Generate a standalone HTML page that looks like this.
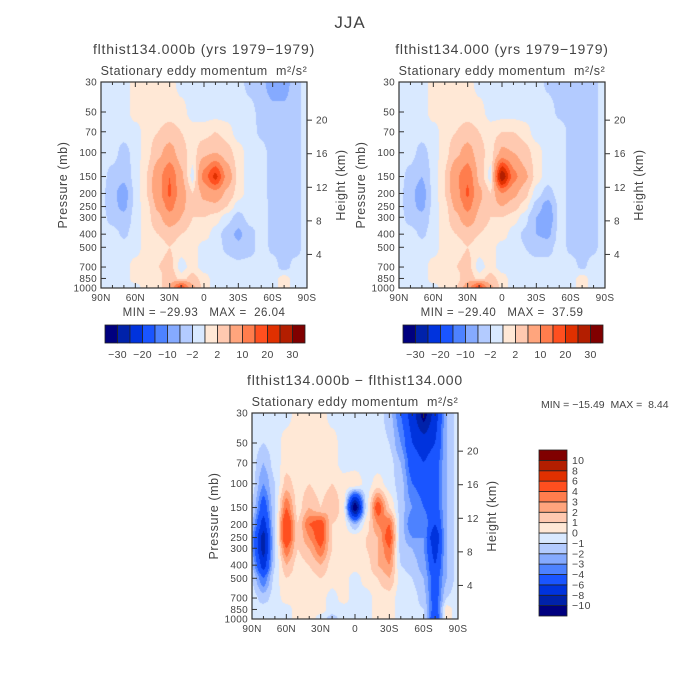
<!DOCTYPE html>
<html><head><meta charset="utf-8">
<style>
body{margin:0;background:#fff;}
#wrap{position:relative;width:700px;height:700px;overflow:hidden;background:#fff;}
canvas,svg{position:absolute;left:0;top:0;}
text{font-family:"Liberation Sans",sans-serif;fill:#444;white-space:pre;}
</style></head>
<body>
<div id="wrap">
<canvas id="cv" width="700" height="700"></canvas>
<svg id="sv" width="700" height="700" xmlns="http://www.w3.org/2000/svg"></svg>
</div>
<script>
const lats=[90,80,70,60,50,40,30,20,10,0,-10,-20,-30,-40,-50,-60,-70,-80,-90];
const levels=[30,50,70,100,150,200,250,300,400,500,700,850,1000];
const pTicks=[30,50,70,100,150,200,250,300,400,500,700,850,1000];
const zTicks=[4,8,12,16,20];
const latTickVals=[90,60,30,0,-30,-60,-90];
const latTickLabels=["90N","60N","30N","0","30S","60S","90S"];
const colors=["#00007f","#0022aa","#0033dd","#1a55ff","#4d82ff","#85aaff","#b3cbff","#d9e9ff","#ffe8d6","#ffc9b0","#ffa57d","#ff7d4d","#ff4f1f","#e03000","#b31e00","#800000"];
const lev1=[-30,-25,-20,-15,-10,-5,-2,0,2,5,10,15,20,25,30];
const lev1Labels=["-30","","-20","","-10","","-2","","2","","10","","20","","30"];
const lev3=[-10,-8,-6,-4,-3,-2,-1,0,1,2,3,4,6,8,10];
const data1=[
[-1,-1,-1,1,1,1,1,-1,-1,-1,-1,-1,-1,-3,-4,-7,-7,-3,-1],
[-1,-1,-1,1,1,1,1,1,-1,-1,-1,-1,-1,-1,-3,-4,-4,-3,-1],
[-1,-1,-1,-1,1,2,3,2,1,1,2,1,-1,-1,-2.5,-4,-4,-3,-1],
[-1,-1,-3,-1,1,4,7,3,1,4,5,3,1,-1,-1,-3,-4,-3,-1],
[-1,-3,-4,-1,2,8,15,6,-1,12,22,8,1,-1,-1,-3,-4,-3,-1],
[-1,-4,-7,-1,2,8,16,7,2,6,8,4,1,-1,-1,-3,-3,-3,-1],
[-1,-4,-6,-1,1,6,12,6,3,4,4,2,-1,-1,-1,-2.5,-3,-3,-1],
[-1,-3,-4,-1,1,4,8,5,2,2,1,-1,-3,-1,-1,-2.5,-3,-3,-1],
[-1,-1,-2.5,-1,1,2,3,2,1,1,-1,-3,-6,-3,-1,-2.5,-3,-3,-1],
[-1,-1,-1,-1,1,1,2,1,1,-1,-1,-2.5,-4,-3,-1,-2.5,-3,-3,-1],
[-1,-1,-1,1,1,2,3,-1,1,-1,-1,-1,-1,-1,-1,-1,-3,-1,-1],
[-1,-1,-1,1,1,1,4,1,3,1,-1,-1,-1,-1,-1,-1,1,-1,-1],
[-1,-1,-1,-1,1,1,5,20,6,1,-1,-1,-1,-1,-1,-1,1,-1,-1]];
const data2=[
[-1,-1,-1,1,1,1,1,-1,-1,-1,-1,-1,-1,-2.5,-3,-4,-4,-2.5,-1],
[-1,-1,-1,1,1,1,1,1,-1,-1,-1,-1,-1,-1,-2.5,-3,-3,-2.5,-1],
[-1,-1,-1,-1,1,2,3,2,1,2,2,1,-1,-1,-1,-2.5,-3,-2.5,-1],
[-1,-1,-3,-1,1,4,7,3,1,6,5,3,1,-1,-1,-2.5,-3,-2.5,-1],
[-1,-3,-5,-1,2,9,14,4,-1,30,12,6,1,-1,-1,-2.5,-3,-2.5,-1],
[-1,-4,-7,-1,2,8,16,6,2,10,6,3,-1,-3,-1,-2.5,-3,-2.5,-1],
[-1,-4,-6,-1,1,6,12,5,3,5,3,1,-3,-7,-1,-2.5,-3,-2.5,-1],
[-1,-3,-4,-1,1,4,8,4,2,2,1,-1,-5,-8,-1,-2.5,-3,-2.5,-1],
[-1,-1,-2.5,-1,1,2,3,2,1,1,-1,-2.5,-5,-6,-1,-2.5,-3,-2.5,-1],
[-1,-1,-1,-1,1,1,2,1,1,-1,-1,-2,-3,-3,-1,-2.5,-3,-2.5,-1],
[-1,-1,-1,1,1,2,3,-1,1,-1,-1,-1,-1,-1,-1,-1,-2.5,-1,-1],
[-1,-1,-1,1,1,1,4,1,3,1,-1,-1,-1,-1,-1,-1,1,-1,-1],
[-1,-1,-1,-1,1,2,7,20,6,1,-1,-1,-1,-1,-1,-1,1,-1,-1]];
const data3=[
[-0.5,-0.5,-0.5,-0.5,0.5,0.5,0.5,-0.5,-0.5,-0.5,-0.5,-0.5,-1.5,-4,-7,-11,-7,-2,-0.5],
[-0.5,-1,-0.5,0.5,0.5,0.5,0.5,0.5,-0.5,-0.5,-0.5,-0.5,-1,-3,-6,-7,-6,-2,-0.5],
[-0.5,-2,-0.5,0.5,0.5,0.5,0.5,0.5,-0.5,-0.5,-0.5,-0.5,-0.5,-2,-5,-6,-5,-2,-0.5],
[-0.5,-3,-1,1.5,0.5,1,0.5,1,0.5,1,-0.5,0.5,-0.5,-1.5,-4,-4.5,-5,-2,-0.5],
[-1,-5,-1,4,0.5,2,1,2,0.5,-12,-0.5,5,1,-1.5,-3,-4,-5,-2,-0.5],
[-2,-7,-1,6,1,4,5,1,0.5,-2,0.5,3,4,-1.5,-4,-3,-6,-2,-0.5],
[-3,-9,-1,6,1,3,5,1,0.5,0.5,1,2,5,-1.5,-3,-3,-8,-2,-0.5],
[-3,-9,-1,4,1,2,4,1,0.5,0.5,1,2,4,-1.5,-2,-3,-7,-2,-0.5],
[-2,-7,-1,2,0.5,1,2,0.5,0.5,0.5,0.5,2,3,-1,-1.5,-2.5,-6,-2,-0.5],
[-1,-4,-0.5,1,0.5,0.5,1,0.5,0.5,-0.5,0.5,1,2,-0.5,-1,-2,-5,-2,-0.5],
[-0.5,-1.5,-0.5,0.5,0.5,0.5,0.5,-0.5,0.5,-0.5,-0.5,0.5,0.5,-0.5,-0.5,-1.5,-5,-1,-0.5],
[-0.5,-0.5,-0.5,-0.5,0.5,0.5,0.5,-0.5,-0.5,-0.5,-0.5,0.5,0.5,-0.5,-0.5,-1,-5,0.5,-0.5],
[-0.5,-0.5,-0.5,-0.5,0.5,0.5,-0.5,-1.5,-0.5,-0.5,-0.5,0.5,0.5,-0.5,-0.5,-1,-6,0.5,-0.5]];

const panels=[
 {x:101,y:82,w:206,h:206,data:data1,lev:lev1,title:"flthist134.000b (yrs 1979-1979)",mm:"MIN = -29.93   MAX =  26.04",name:"panel-case-b"},
 {x:399,y:82,w:206,h:206,data:data2,lev:lev1,title:"flthist134.000 (yrs 1979-1979)",mm:"MIN = -29.40   MAX =  37.59",name:"panel-case"},
 {x:252,y:413,w:206,h:206,data:data3,lev:lev3,title:"flthist134.000b - flthist134.000",mm:null,name:"panel-difference"}];

const ctx=document.getElementById('cv').getContext('2d');
const sv=document.getElementById('sv');
const NS="http://www.w3.org/2000/svg";
function el(tag,attrs,parent){const e=document.createElementNS(NS,tag);for(const k in attrs)e.setAttribute(k,attrs[k]);(parent||sv).appendChild(e);return e;}
function txt(s,x,y,size,anchor,parent,rot,ls){const t=el('text',{x:x,y:y,'font-size':size,'text-anchor':anchor||'middle'},parent);if(ls)t.setAttribute('letter-spacing',ls);if(rot)t.setAttribute('transform','rotate(-90 '+x+' '+y+')');t.textContent=s.replace(/-/g,'\u2212');return t;}
const L30=Math.log(30),LR=Math.log(1000)-Math.log(30);
function yScale(P,p){return P.y+(Math.log(p)-L30)/LR*P.h;}
function xScale(P,lat){return P.x+(90-lat)/180*P.w;}
function colorFor(v,lev){let i=0;while(i<lev.length&&v>=lev[i])i++;return colors[i];}
function sample(data,lat,lp){
 let fi=(90-lat)/10; fi=Math.max(0,Math.min(lats.length-1-1e-6,fi));
 const i0=Math.floor(fi),tx=fi-i0;
 const lls=levels.map(Math.log);
 let j0=0;while(j0<levels.length-2&&lp>lls[j0+1])j0++;
 let ty=(lp-lls[j0])/(lls[j0+1]-lls[j0]);ty=Math.max(0,Math.min(1,ty));
 const s=t=>t*t*(3-2*t);
 const a=data[j0][i0],b=data[j0][i0+1],c=data[j0+1][i0],d=data[j0+1][i0+1];
 const u=0.5*tx+0.5*s(tx),w=0.5*ty+0.5*s(ty);
 return (a*(1-u)+b*u)*(1-w)+(c*(1-u)+d*u)*w;
}
panels.forEach(P=>{
 for(let py=0;py<P.h;py++){
  const lp=L30+(py+0.5)/P.h*LR;
  for(let px=0;px<P.w;px++){
   const lat=90-(px+0.5)/P.w*180;
   ctx.fillStyle=colorFor(sample(P.data,lat,lp),P.lev);
   ctx.fillRect(P.x+px,P.y+py,1,1);
  }
 }
 const g=el('g',{});
 
 
 const f=el('rect',{x:P.x,y:P.y,width:P.w,height:P.h,fill:'none',stroke:'#333','stroke-width':1.2},g);
 
 const t1=txt(P.title,P.x+P.w/2,P.y-28,14,'middle',g,false,'0.8');
 const t2=txt('Stationary eddy momentum  m\u00B2/s\u00B2',P.x+P.w/2,P.y-7,12.5,'middle',g,false,'0.6');
 pTicks.forEach(p=>{const y=yScale(P,p);el('line',{x1:P.x,y1:y,x2:P.x+5,y2:y,stroke:'#333'},g);
  const t=txt(String(p),P.x-4,y+3.5,10,'end',g,false,'0.3');});
 zTicks.forEach(z=>{const p=1000*Math.exp(-z/7);const y=yScale(P,p);el('line',{x1:P.x+P.w,y1:y,x2:P.x+P.w+5,y2:y,stroke:'#333'},g);
  const t=txt(String(z),P.x+P.w+9,y+3.5,10,'start',g,false,'0.3');});
 for(let lat=90;lat>=-90;lat-=10){const x=xScale(P,lat);const L=(lat%30===0)?5:3;
  el('line',{x1:x,y1:P.y+P.h,x2:x,y2:P.y+P.h-L,stroke:'#333'},g);el('line',{x1:x,y1:P.y,x2:x,y2:P.y+L,stroke:'#333'},g);}
 latTickVals.forEach((v,i)=>{const t=txt(latTickLabels[i],xScale(P,v),P.y+P.h+13,10,'middle',g,false,'0.3');});
 const ya=txt('Pressure (mb)',P.x-34,P.y+P.h/2,12.5,'middle',g,true,'0.6');
 const yb=txt('Height (km)',P.x+P.w+38,P.y+P.h/2,12.5,'middle',g,true,'0.6');
 if(P.mm){const m=txt(P.mm,P.x+P.w/2,P.y+P.h+28,11.5,'middle',g,false,'0.5');
  const cb=el('g',{});
  const cx=P.x+4,cw=200/16;
  colors.forEach((c,i)=>{el('rect',{x:cx+i*cw,y:325,width:cw,height:18,fill:c,stroke:'#222','stroke-width':0.8},cb);});
  lev1Labels.forEach((s,i)=>{if(s){const t=txt(s,cx+(i+1)*cw,358,10.5,'middle',cb,false,'0.3');}});
 }
});
const jja=txt('JJA',350,28,17,'middle',null,false,'1');
const mm3=txt('MIN = -15.49  MAX =  8.44',541,408,10.5,'start',null,false,'0');
const vcb=el('g',{});
const bh=166/16;
colors.forEach((c,i)=>{el('rect',{x:539,y:450+(15-i)*bh,width:28,height:bh,fill:c,stroke:'#222','stroke-width':0.8},vcb);});
lev3.forEach((v,i)=>{const t=txt(String(v),572,450+(15-i)*bh+3.5,10.5,'start',vcb,false,'0.3');});
</script>
</body></html>
